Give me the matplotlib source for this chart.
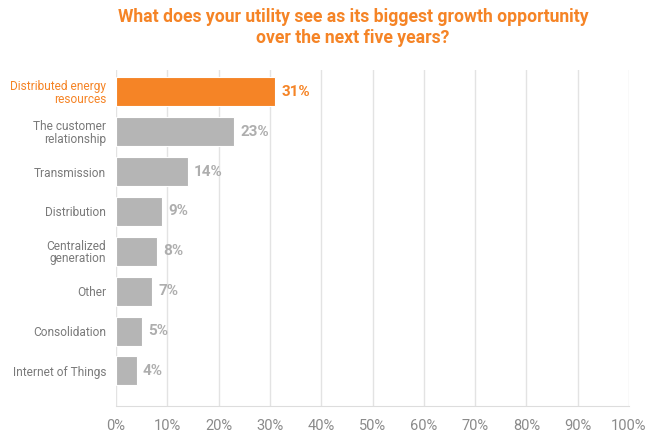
import matplotlib
matplotlib.use("Agg")
import matplotlib.pyplot as plt

plt.rcParams['font.family'] = ['Roboto', 'DejaVu Sans']

labels = ["Distributed energy\nresources", "The customer\nrelationship", "Transmission",
          "Distribution", "Centralized\ngeneration", "Other", "Consolidation",
          "Internet of Things"]
values = [31, 23, 14, 9, 8, 7, 5, 4]
ticks = [0, 10, 20, 30, 40, 50, 60, 70, 80, 90, 100]

orange = "#F58426"
gray_bar = "#B5B5B5"
gray_txt = "#7A7A7A"
gray_val = "#AEAEAE"

fig = plt.figure(figsize=(6.6, 4.41), dpi=100)
ax = fig.add_axes([116/660, 1-406/441, 513/660, 336/441])

colors = [orange] + [gray_bar] * (len(values) - 1)
y = list(range(len(values)))
ax.barh(y, values, height=0.73, color=colors, edgecolor="white", linewidth=0.8, zorder=3)

for i, v in enumerate(values):
    c = orange if i == 0 else gray_val
    ax.text(v + 1.2, i, f"{v}%", va="center", ha="left", fontsize=11,
            fontweight="bold", color=c)

ax.set_xlim(0, 100)
ax.set_ylim(7.88, -0.55)
ax.set_xticks(ticks)
ax.set_xticklabels([f"{t}%" for t in ticks], fontsize=10.5, color="#8A8A8A")
ax.set_yticks(y)
ax.set_yticklabels(labels, fontsize=8.6, color=gray_txt, linespacing=0.95)
ax.get_yticklabels()[0].set_color(orange)
ax.tick_params(axis="y", length=0, pad=7)
ax.tick_params(axis="x", length=0, pad=9)
ax.grid(axis="x", color="#E3E3E3", linewidth=1, zorder=0)
for s in ["top", "right", "left"]:
    ax.spines[s].set_visible(False)
ax.spines["bottom"].set_color("#DDDDDD")

fig.text(353/660, 1-8/441, "What does your utility see as its biggest growth opportunity\nover the next five years?",
         ha="center", va="top", fontsize=12.7, fontweight="bold", color=orange, linespacing=1.2)
fig.savefig("out.png", dpi=100)
